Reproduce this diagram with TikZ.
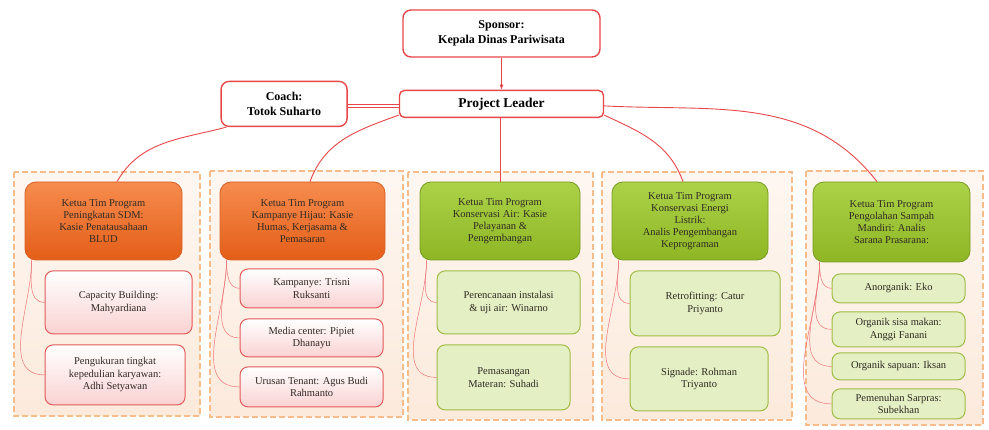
\documentclass[tikz,border=0pt]{standalone}
\usepackage{fontspec}
\setmainfont{Liberation Serif}
\usetikzlibrary{arrows.meta,positioning}

\definecolor{linered}{RGB}{232,70,72}
\definecolor{orangetop}{RGB}{246,140,78}
\definecolor{orangebot}{RGB}{228,94,24}
\definecolor{orangeline}{RGB}{214,96,36}
\definecolor{pinkbot}{RGB}{250,210,210}
\definecolor{pinkline}{RGB}{226,90,90}
\definecolor{greentop}{RGB}{172,210,72}
\definecolor{greenbot}{RGB}{142,182,36}
\definecolor{greenline}{RGB}{120,156,34}
\definecolor{palegreen}{RGB}{228,239,196}
\definecolor{palegreenline}{RGB}{158,188,68}
\definecolor{groupline}{RGB}{246,188,138}
\definecolor{groupfill}{RGB}{252,234,220}
\definecolor{textgrey}{RGB}{48,42,36}

\begin{document}
\begin{tikzpicture}[x=1pt,y=1pt,
    top node/.style={draw=linered,line width=1.4pt,fill=white,rounded corners=8pt,
      align=center,font=\fontsize{12}{15}\selectfont\bfseries,inner sep=2pt},
    head node/.style={rounded corners=11pt,line width=0.8pt,align=center,
      font=\fontsize{10.5}{12}\selectfont,text=textgrey,inner sep=2pt},
    orange head/.style={head node,draw=orangeline,top color=orangetop,bottom color=orangebot},
    green head/.style={head node,draw=greenline,top color=greentop,bottom color=greenbot},
    sub node/.style={rounded corners=8pt,line width=1pt,align=center,anchor=north west,
      font=\fontsize{10.5}{12.5}\selectfont,text=textgrey,inner sep=2pt},
    pink sub/.style={sub node,draw=pinkline,top color=white,bottom color=pinkbot},
    green sub/.style={sub node,draw=palegreenline,fill=palegreen},
    group box/.style={draw=groupline,top color=groupfill!40!white,bottom color=groupfill,
      dash pattern=on 6pt off 3pt,line width=1.3pt},
    link/.style={draw=linered,line width=0.9pt},
    twig/.style={draw=linered!75,line width=0.5pt}]

  \useasboundingbox (0,0) rectangle (989,-430);

  % dashed groups
  \draw[group box] (14,-172) rectangle (200,-416);
  \draw[group box] (210,-171) rectangle (403,-417);
  \draw[group box] (408,-172) rectangle (593,-420);
  \draw[group box] (602,-172) rectangle (792,-420);
  \draw[group box] (806,-171) rectangle (983,-425);

  % top
  \node[top node,minimum width=197,minimum height=47] (sponsor) at (501.5,-33.5)
    {Sponsor:\\Kepala Dinas Pariwisata};
  \node[top node,rounded corners=5pt,minimum width=204,minimum height=27,
    font=\fontsize{13.5}{16}\selectfont\bfseries] (pl) [below=32pt of sponsor] {Project Leader};
  \node[top node,minimum width=126,minimum height=45] (coach) [left=51pt of pl]
    {Coach:\\Totok Suharto};

  % heads
  \node[orange head,minimum width=157,minimum height=78] (h1) at (103.5,-221)
    {Ketua Tim Program\\Peningkatan SDM:\\Kasie Penatausahaan\\BLUD};
  \node[orange head,minimum width=165,minimum height=78] (h2) at (302.5,-221)
    {Ketua Tim Program\\Kampanye Hijau: Kasie\\Humas, Kerjasama \&\\Pemasaran};
  \node[green head,minimum width=160,minimum height=78] (h3) at (500,-221)
    {Ketua Tim Program\\Konservasi Air: Kasie\\Pelayanan \&\\Pengembangan};
  \node[green head,minimum width=156,minimum height=78] (h4) at (690,-221)
    {Ketua Tim Program\\Konservasi Energi\\Listrik:\\Analis Pengembangan\\Keprograman};
  \node[green head,minimum width=157,minimum height=80] (h5) at (891.5,-222)
    {Ketua Tim Program\\Pengolahan Sampah\\Mandiri: Analis\\Sarana Prasarana:};

  % column 1
  \node[pink sub,minimum width=147,minimum height=63] (s11)
    [below=10pt of h1.south west,anchor=north west,xshift=20pt] {Capacity Building:\\Mahyardiana};
  \node[pink sub,minimum width=140,minimum height=60] (s12)
    [below=10pt of s11.south west,anchor=north west] {Pengukuran tingkat\\kepedulian karyawan:\\Adhi Setyawan};

  % column 2
  \node[pink sub,minimum width=143,minimum height=39] (s21)
    [below=8pt of h2.south west,anchor=north west,xshift=20pt] {Kampanye: Trisni\\Ruksanti};
  \node[pink sub,minimum width=143,minimum height=38] (s22)
    [below=10pt of s21.south west,anchor=north west] {Media center: Pipiet\\Dhanayu};
  \node[pink sub,minimum width=143,minimum height=40] (s23)
    [below=9pt of s22.south west,anchor=north west] {Urusan Tenant: Agus Budi\\Rahmanto};

  % column 3
  \node[green sub,minimum width=143,minimum height=63] (s31)
    [below=10pt of h3.south west,anchor=north west,xshift=17pt] {Perencanaan instalasi\\\& uji air: Winarno};
  \node[green sub,minimum width=133,minimum height=65] (s32)
    [below=10pt of s31.south west,anchor=north west] {Pemasangan\\Materan: Suhadi};

  % column 4
  \node[green sub,minimum width=150,minimum height=65] (s41)
    [below=10pt of h4.south west,anchor=north west,xshift=18pt] {Retrofitting: Catur\\Priyanto};
  \node[green sub,minimum width=138,minimum height=64] (s42)
    [below=10pt of s41.south west,anchor=north west] {Signade: Rohman\\Triyanto};

  % column 5
  \node[green sub,minimum width=133,minimum height=29] (s51)
    [below=11pt of h5.south west,anchor=north west,xshift=19pt] {Anorganik: Eko};
  \node[green sub,minimum width=133,minimum height=35] (s52)
    [below=8pt of s51.south west,anchor=north west] {Organik sisa makan:\\Anggi Fanani};
  \node[green sub,minimum width=133,minimum height=27] (s53)
    [below=5pt of s52.south west,anchor=north west] {Organik sapuan: Iksan};
  \node[green sub,minimum width=133,minimum height=30] (s54)
    [below=8pt of s53.south west,anchor=north west] {Pemenuhan Sarpras:\\Subekhan};

  % links
  \path[link]
    (sponsor) edge[-{Latex[length=5pt,width=4pt]}] (pl)
    ([yshift=-2pt]coach.east) edge[double=white,double distance=2.2pt,line width=0.6pt] ([yshift=-2pt]pl.west)
    ([xshift=6pt]coach.south west) edge[out=195,in=60] ([xshift=13.5pt]h1.north)
    ([yshift=3pt]pl.south west) edge[out=200,in=70] ([xshift=7.5pt]h2.north)
    (pl.south -| h3.north) edge (h3.north)
    ([yshift=3pt]pl.south east) edge[out=-25,in=110] ([xshift=-7pt]h4.north)
    ([yshift=-2pt]pl.east) edge[out=-3,in=128] ([xshift=-14.5pt]h5.north);

  \path[twig]
    ([xshift=7pt]h1.south west) edge[out=-90,in=180] (s11.west)
                                edge[out=-90,in=180] (s12.west)
    ([xshift=7pt]h2.south west) edge[out=-90,in=180] (s21.west)
                                edge[out=-90,in=180] (s22.west)
                                edge[out=-90,in=180] (s23.west)
    ([xshift=7pt]h3.south west) edge[out=-90,in=180] (s31.west)
                                edge[out=-90,in=180] (s32.west)
    ([xshift=7pt]h4.south west) edge[out=-90,in=180] (s41.west)
                                edge[out=-90,in=180] (s42.west)
    ([xshift=7pt]h5.south west) edge[out=-90,in=180] (s51.west)
                                edge[out=-90,in=180] (s52.west)
                                edge[out=-90,in=180] (s53.west)
                                edge[out=-90,in=180] (s54.west);
\end{tikzpicture}
\end{document}
